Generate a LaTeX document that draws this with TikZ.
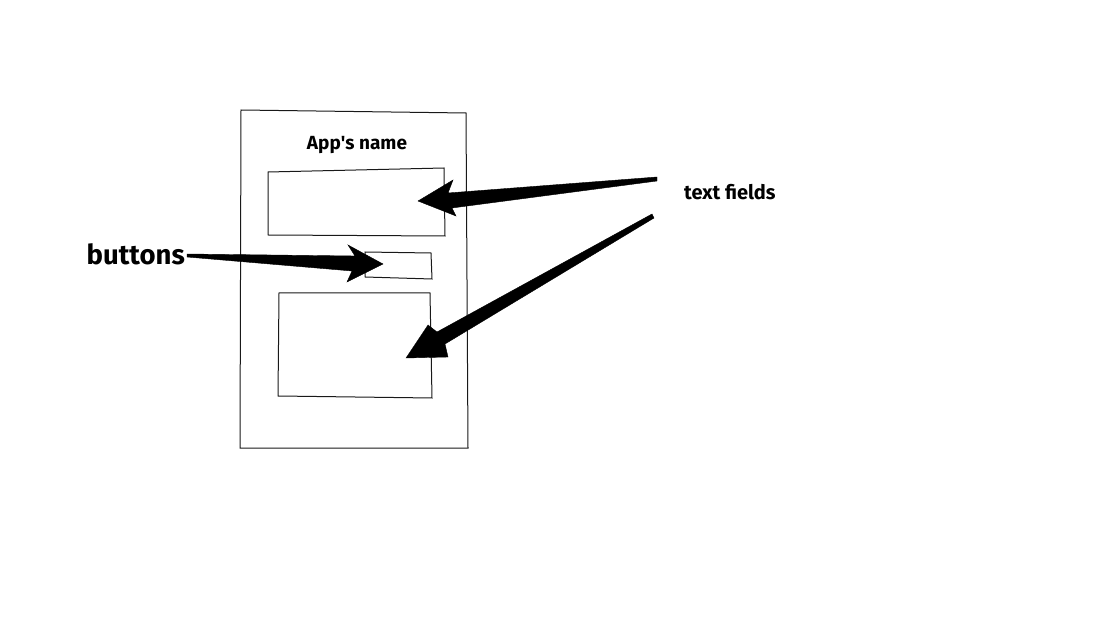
\documentclass[tikz,border=0pt]{standalone}
\usepackage{fontspec}
\setmainfont{Fira Sans}
\begin{document}
\begin{tikzpicture}[x=1pt,y=-1pt,
  frame/.style={draw=black!90,line width=1pt},
  fatarrow/.style={fill=black,draw=black,line width=0.4pt,line join=miter},
  lbl/.style={inner sep=0pt,font=\bfseries}]
\useasboundingbox (0,0) rectangle (1101,636);
% phone frame
\draw[frame] (241,110) -- (466,113) -- (468,448) -- (240,448) -- cycle;
% top text field
\draw[frame] (268,172) -- (444,168) -- (445,236) -- (268,235) -- cycle;
% button
\draw[frame] (365,252) -- (431,253) -- (432,279) -- (365,277) -- cycle;
% bottom text field
\draw[frame] (279,293) -- (430,293) -- (432,398) -- (278,396) -- cycle;
% labels
\node[lbl,font=\bfseries\fontsize{19}{20}\selectfont] (app) at (357,145) {App\textquotesingle s name};
\node[lbl,font=\bfseries\fontsize{27.5}{29}\selectfont,anchor=east] (buttons) at (185,254) {buttons};
\node[lbl,font=\bfseries\fontsize{20}{21}\selectfont,anchor=west] (tf) at (684,192) {text fields};
% arrows
\coordinate (t1) at (657,179);
\coordinate (t2) at (653,216);
\coordinate (t3) at (187,256);
\fill[fatarrow] (418,201) -- (453,180) -- (448,193) -- (657,177) -- (657,181) -- (452,208) -- (456,216) -- cycle;
\fill[fatarrow] (406,358) -- (428,325) -- (437,332) -- (652,214) -- (654,218) -- (445,344) -- (448,357) -- cycle;
\fill[fatarrow] (383,264) -- (348,245) -- (355,256) -- (187,254) -- (187,257) -- (352,271) -- (347,282) -- cycle;
\end{tikzpicture}
\end{document}
